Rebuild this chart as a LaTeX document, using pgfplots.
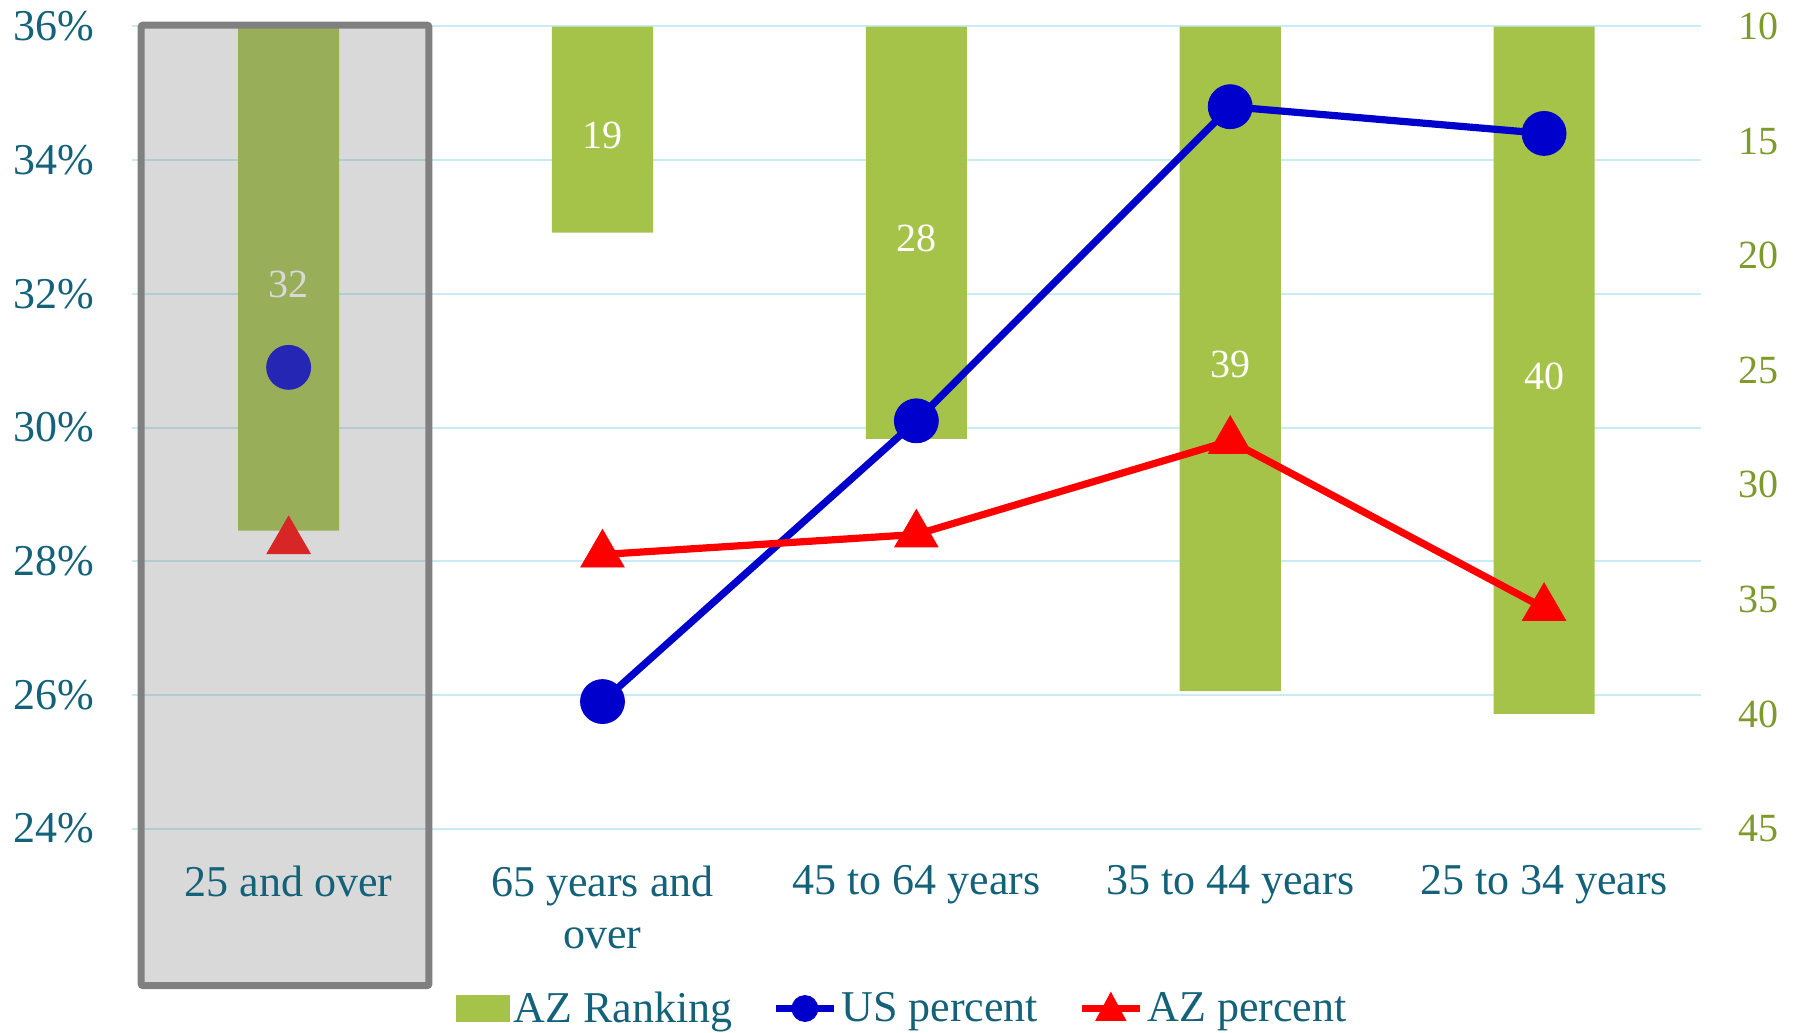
\documentclass[border=0pt]{standalone}
\usepackage{fontspec}
\setmainfont{Liberation Serif}
\usepackage{pgfplots}
\pgfplotsset{compat=1.18}
\usetikzlibrary{calc}
\definecolor{tealtxt}{HTML}{14627A}
\definecolor{olivetxt}{HTML}{7D9A2A}
\definecolor{bargreen}{HTML}{A5C249}
\definecolor{usblue}{HTML}{0000CC}
\definecolor{azred}{HTML}{FF0000}
\definecolor{gridc}{HTML}{C8ECF6}
\definecolor{boxgray}{HTML}{808080}
\pgfplotsset{
  base/.style={scale only axis, width=784.6pt, height=401pt,
    xmin=-0.5, xmax=4.5, axis line style={draw=none},
    major tick length=0pt, minor tick length=0pt},
}
\begin{document}
\begin{tikzpicture}
% Axis A: left scale, grid and labels
\begin{axis}[base, ymin=24, ymax=36,
  ytick={24,26,28,30,32,34,36},
  yticklabels={24\%,26\%,28\%,30\%,32\%,34\%,36\%},
  ymajorgrids, grid style={gridc, line width=1pt},
  xtick=\empty,
  yticklabel style={font=\fontsize{22}{26}\selectfont, text=tealtxt, xshift=-15pt}]
\addplot[draw=none, mark=none] coordinates {(0,30)};
\end{axis}
% Axis B: right scale, bars
\begin{axis}[base, ymin=10, ymax=45, y dir=reverse,
  ytick={10,15,20,25,30,35,40,45},
  yticklabels={10,15,20,25,30,35,40,45},
  yticklabel pos=right, xtick=\empty,
  yticklabel style={font=\fontsize{20}{24}\selectfont, text=olivetxt, xshift=15pt}]
\addplot[ybar, bar width=0.322, fill=bargreen, draw=none] coordinates {(0,32) (1,19) (2,28) (3,39) (4,40)};
\addplot[draw=none, mark=none, nodes near coords, point meta=explicit symbolic,
  nodes near coords style={anchor=center, text=white, yshift=-3pt, font=\fontsize{20}{24}\selectfont}]
  coordinates {(0,21)[32] (1,14.5)[19] (2,19)[28] (3,24.5)[39] (4,25)[40]};
\end{axis}
% Axis C: lines
\begin{axis}[base, name=main, ymin=24, ymax=36, xtick=\empty, ytick=\empty, clip=false,
  legend columns=-1,
  legend style={draw=none, fill=none, at={(0.4916,-0.2244)}, anchor=center,
    font=\fontsize{22}{26}\selectfont, text=tealtxt,
    /tikz/every even column/.append style={column sep=18pt}},
  legend cell align=left]
\addlegendimage{legend image code/.code={\fill[bargreen] (0pt,-6.5pt) rectangle (26.5pt,6.5pt);}}
\addlegendentry{AZ Ranking}
\addlegendimage{legend image code/.code={\draw[usblue, line width=3.6pt] (0pt,0pt) -- (29pt,0pt); \fill[usblue] (14.5pt,0pt) circle (6.5pt);}}
\addlegendentry{US percent}
\addlegendimage{legend image code/.code={\draw[azred, line width=3.6pt] (0pt,0pt) -- (29pt,0pt); \fill[azred] (14.5pt,8pt) -- (22pt,-6pt) -- (7pt,-6pt) -- cycle;}}
\addlegendentry{AZ percent}
\addplot[usblue, line width=3.6pt, mark=*, mark size=11pt, mark options={line width=0.4pt}, forget plot]
  coordinates {(1,25.9) (2,30.1) (3,34.8) (4,34.4)};
\addplot[usblue, only marks, mark=*, mark size=11pt, mark options={line width=0.4pt}, forget plot]
  coordinates {(0,30.9)};
\addplot[azred, line width=3.6pt, mark=triangle*, mark size=12.5pt, mark options={line width=0.4pt}, forget plot]
  coordinates {(1,28.1) (2,28.4) (3,29.8) (4,27.3)};
\addplot[azred, only marks, mark=triangle*, mark size=12.5pt, mark options={line width=0.4pt}, forget plot]
  coordinates {(0,28.3)};
\coordinate (bsw) at (axis cs:-0.470,21.65);
\coordinate (bne) at (axis cs:0.447,36.02);
\end{axis}
% highlight box
\draw[boxgray, line width=3.5pt, fill=boxgray, fill opacity=0.3, rounded corners=1pt] (bsw) rectangle (bne);
% Axis D: x labels
\begin{axis}[base, ymin=24, ymax=36, ytick=\empty,
  xtick={0,1,2,3,4},
  xticklabels={25 and over,{65 years and\\over},45 to 64 years,35 to 44 years,25 to 34 years},
  xticklabel style={font=\fontsize{22}{26}\selectfont, text=tealtxt, align=center, anchor=north, yshift=-15pt}]
\addplot[draw=none, mark=none] coordinates {(0,30)};
\end{axis}
\pgfresetboundingbox
\path[use as bounding box] ($(main.south west)+(-65.85pt,-101.8pt)$) rectangle ($(main.north east)+(51.5pt,13.25pt)$);
\end{tikzpicture}
\end{document}
